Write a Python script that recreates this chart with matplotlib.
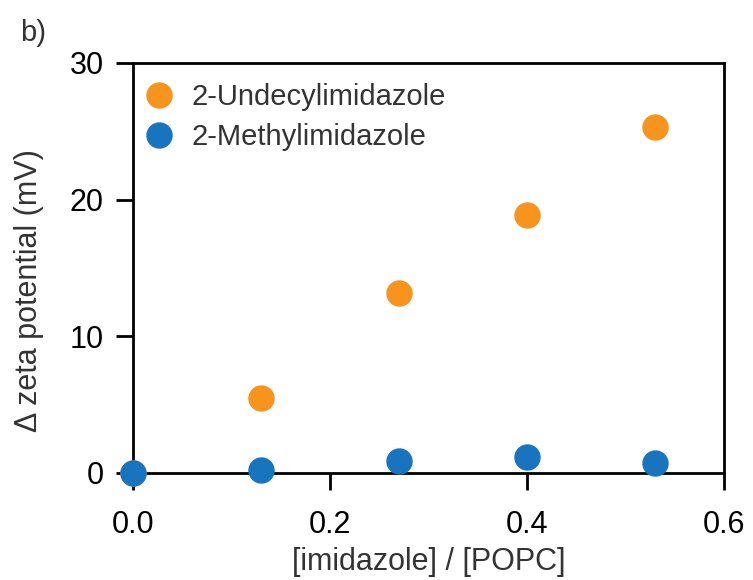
import numpy as np
import matplotlib.pyplot as plt

plt.rcParams['font.family'] = ['Liberation Sans', 'DejaVu Sans']

ratio = [0.0, 0.13, 0.27, 0.40, 0.53]
undecyl = [0.0, 5.5, 13.2, 18.9, 25.3]
methyl = [0.0, 0.2, 0.9, 1.2, 0.7]

orange = "#F7941D"
blue = "#1874BF"

fig = plt.figure(figsize=(7.53, 5.8), dpi=100)
ax = fig.add_axes([0.1766, 0.1845, 0.7849, 0.7069])

ax.plot(ratio, undecyl, 'o', color=orange, markersize=18, label="2-Undecylimidazole", clip_on=False, zorder=3)
ax.plot(ratio, methyl, 'o', color=blue, markersize=18, label="2-Methylimidazole", clip_on=False, zorder=4)

ax.set_xlim(0, 0.6)
ax.set_ylim(0, 30)
ax.set_xticks([0.0, 0.2, 0.4, 0.6])
ax.set_xticklabels(["0.0", "0.2", "0.4", "0.6"])
ax.set_yticks([0, 10, 20, 30])
ax.tick_params(direction='out', length=12, width=2, labelsize=22, pad=9)
ax.tick_params(axis='x', pad=15)
for s in ax.spines.values():
    s.set_linewidth(2)

ax.set_xlabel("[imidazole] / [POPC]", fontsize=22, color="#333333", labelpad=5)
ax.set_ylabel("Δ zeta potential (mV)", fontsize=22, color="#333333")
ax.yaxis.set_label_coords(-0.15, 0.446)

ax.legend(loc="upper left", bbox_to_anchor=(0.0, 0.98), frameon=False, fontsize=21,
          handletextpad=0.6, borderaxespad=0.1, borderpad=0.3, labelspacing=0.42,
          handlelength=1.0, labelcolor="#333333")

fig.text(0.027, 0.93, "b)", fontsize=21, color="#333333")

fig.savefig("out.png", dpi=100)
